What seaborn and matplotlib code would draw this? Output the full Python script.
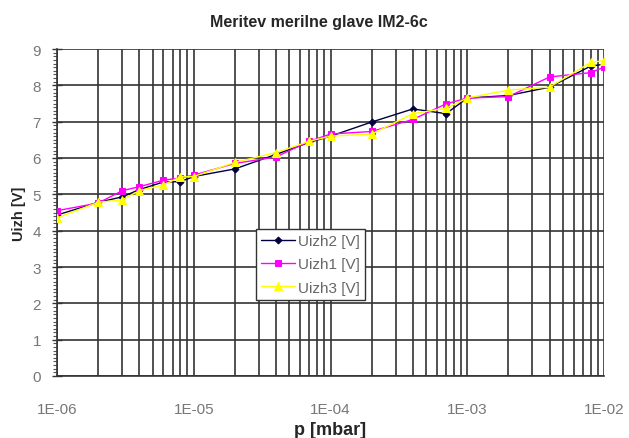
import matplotlib
matplotlib.use('Agg')
import matplotlib.pyplot as plt
import matplotlib.ticker as mticker
import seaborn as sns
import numpy as np
import pandas as pd

# tlak [mbar]
p = [1e-6, 2e-6, 3e-6, 4e-6, 6e-6, 8e-6, 1e-5, 2e-5, 4e-5, 7e-5,
     1e-4, 2e-4, 4e-4, 7e-4, 1e-3, 2e-3, 4e-3, 8e-3, 1e-2]

# napetosti [V]
uizh2 = [4.43, 4.78, 4.93, 5.13, 5.34, 5.35, 5.49, 5.70, 6.10, 6.43,
         6.60, 6.99, 7.35, 7.22, 7.65, 7.72, 7.95, 8.53, 8.58]
uizh1 = [4.55, 4.76, 5.10, 5.21, 5.39, 5.45, 5.53, 5.85, 6.03, 6.46,
         6.66, 6.73, 7.06, 7.49, 7.65, 7.69, 8.23, 8.35, 8.50]
uizh3 = [4.35, 4.78, 4.85, 5.10, 5.26, 5.48, 5.49, 5.88, 6.15, 6.46,
         6.60, 6.66, 7.22, 7.37, 7.65, 7.87, 7.95, 8.63, 8.68]

series = [
    ('Uizh2 [V]', uizh2, '#000040', 'D', 3.5),
    ('Uizh1 [V]', uizh1, '#ff00ff', 's', 4.5),
    ('Uizh3 [V]', uizh3, '#ffff00', '^', 5.5),
]


def dec_label(v, pos):
    # 1E-06 kot v Excelu
    return '1E-%02d' % int(round(-np.log10(v)))


sns.set_style('white')
plt.rcParams['font.family'] = ['Liberation Sans', 'DejaVu Sans']

fig = plt.figure(figsize=(6.29, 4.39), dpi=100)
ax = fig.add_axes([57 / 629, 62 / 439, 547 / 629, 327 / 439])
ax.set_xscale('log')

# mreza
ax.set_axisbelow(True)
ax.grid(True, which='major', axis='both', color='#333333', lw=1.2)
ax.grid(True, which='minor', axis='x', color='#333333', lw=1.2)

for name, vals, col, mk, ms in series:
    df = pd.DataFrame({'p': p, 'U': vals})
    sns.lineplot(data=df, x='p', y='U', ax=ax, color=col, marker=mk,
                 markersize=ms, markeredgecolor=col, lw=1.0, label=name,
                 sort=False, zorder=3)

ax.set_xlim(1e-6, 1e-2)
ax.set_ylim(0, 9)

ax.xaxis.set_major_locator(mticker.LogLocator(base=10, numticks=10))
ax.xaxis.set_minor_locator(mticker.LogLocator(base=10, subs=np.arange(2, 10), numticks=10))
ax.xaxis.set_major_formatter(mticker.FuncFormatter(dec_label))
ax.xaxis.set_minor_formatter(mticker.NullFormatter())
ax.tick_params(axis='x', which='both', length=0, pad=19, labelsize=11, labelcolor='#777777')

ax.yaxis.set_major_locator(mticker.MultipleLocator(1))
ax.yaxis.set_minor_locator(mticker.MultipleLocator(0.1))
ax.tick_params(axis='y', which='major', direction='inout', length=7, width=1, color='#333333',
               pad=8, labelsize=11, labelcolor='#777777', left=True)
ax.tick_params(axis='y', which='minor', direction='out', length=3, width=0.8, color='#555555', left=True)

for s in ['top', 'right']:
    ax.spines[s].set_visible(False)
for s in ['left', 'bottom']:
    ax.spines[s].set_color('#333333')
    ax.spines[s].set_linewidth(1.2)

ax.set_xlabel('p [mbar]', fontsize=13, fontweight='bold', labelpad=3)
ax.set_ylabel('Uizh [V]', fontsize=10.5, fontweight='bold', labelpad=5)
fig.text(319 / 629, 1 - 22 / 439, 'Meritev merilne glave IM2-6c', ha='center', va='center',
         fontsize=11.5, fontweight='bold')

leg = ax.legend(loc='upper left', bbox_to_anchor=(0.364, 0.45), fontsize=11, frameon=True,
                fancybox=False, framealpha=1, edgecolor='#333333', borderpad=0.35,
                handlelength=2.2, handletextpad=0.2, labelspacing=0.6, borderaxespad=0)
leg.get_frame().set_linewidth(1.0)
for t in leg.get_texts():
    t.set_color('#666666')

fig.savefig('out.png', dpi=100, facecolor='white')
